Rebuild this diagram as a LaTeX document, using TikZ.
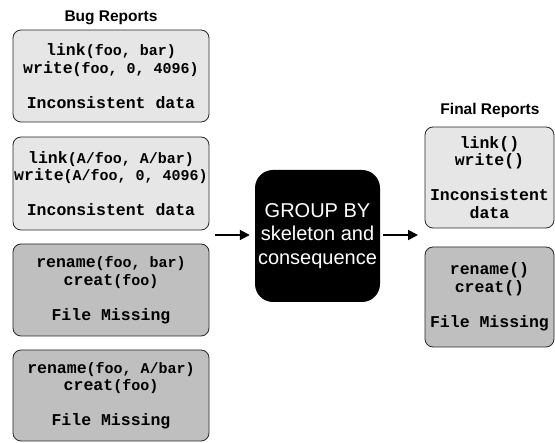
\documentclass[tikz,border=0pt]{standalone}
\usepackage{fontspec}
\setmainfont{Liberation Sans}
\newfontfamily\codefont{Liberation Mono}
\usetikzlibrary{arrows.meta}
\definecolor{lightbox}{HTML}{E6E6E6}
\definecolor{darkbox}{HTML}{BFBFBF}
\newcommand\argtxt[1]{{\fontsize{15}{17}\selectfont #1}}
\begin{document}
\begin{tikzpicture}[x=1pt,y=-1pt,
  report/.style={draw=black!85, line width=0.8pt, rounded corners=8pt, inner sep=0pt, align=center,
    font=\codefont\bfseries\fontsize{16.5}{17.5}\selectfont},
  lightrep/.style={report, fill=lightbox},
  darkrep/.style={report, fill=darkbox},
  bugrep/.style={minimum width=196pt},
  finrep/.style={minimum width=129pt},
  title/.style={font=\bfseries\fontsize{15.5}{18}\selectfont, inner sep=0pt, anchor=base},
  groupbox/.style={fill=black, rounded corners=18pt, minimum width=125pt, minimum height=132pt,
    text=white, align=center, inner sep=0pt, font=\fontsize{20}{23.5}\selectfont},
  arr/.style={-{Triangle[length=10pt,width=10pt]}, line width=1.8pt}]
\useasboundingbox (0,0) rectangle (555,443);

\node[title] (bugtitle) at (111,22) {Bug Reports};
\node[title] (fintitle) at (490,115) {Final Reports};

\node[lightrep, bugrep, minimum height=92pt] (b1) at (111,76)
  {link\argtxt{(foo, bar)}\\write\argtxt{(foo, 0, 4096)}\\[17.5pt]Inconsistent data};
\node[lightrep, bugrep, minimum height=93pt] (b2) at (111,183.5)
  {link\argtxt{(A/foo, A/bar)}\\write\argtxt{(A/foo, 0, 4096)}\\[17.5pt]Inconsistent data};
\node[darkrep, bugrep, minimum height=92pt] (b3) at (111,290)
  {rename\argtxt{(foo, bar)}\\creat\argtxt{(foo)}\\[17.5pt]File Missing};
\node[darkrep, bugrep, minimum height=91pt] (b4) at (111,395.5)
  {rename\argtxt{(foo, A/bar)}\\creat\argtxt{(foo)}\\[17.5pt]File Missing};

\node[groupbox] (grp) at (317.5,236) {GROUP BY\\skeleton and\\consequence};

\node[lightrep, finrep, minimum height=101pt] (f1) at (489.5,177.5)
  {link()\\write()\\[17.5pt]Inconsistent\\data};
\node[darkrep, finrep, minimum height=100pt] (f2) at (489.5,297)
  {rename()\\creat()\\[17.5pt]File Missing};

\coordinate (in) at (215,235);
\coordinate (out) at (418,235);
\draw[arr, shorten >=5pt] (in) -- (in -| grp.west);
\draw[arr, shorten <=3pt] (grp.east |- out) -- (out);
\end{tikzpicture}
\end{document}
